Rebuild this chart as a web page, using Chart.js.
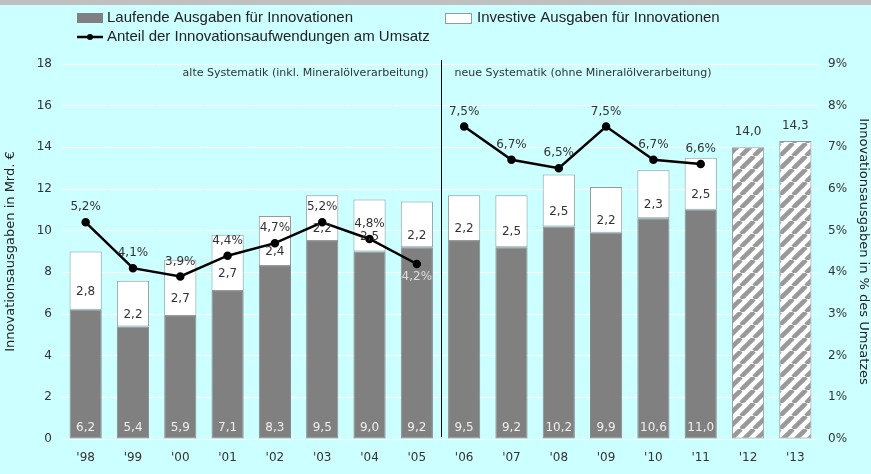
<!DOCTYPE html>
<html>
<head>
<meta charset="utf-8">
<script src="https://cdn.jsdelivr.net/npm/chart.js@4"></script>
<style>
  html, body { margin: 0; padding: 0; background: #ccffff; }
  #wrap { width: 871px; height: 474px; }
</style>
</head>
<body>
<div id="wrap"><canvas id="chart"></canvas></div>
<script>
const years = ["'98", "'99", "'00", "'01", "'02", "'03", "'04", "'05", "'06", "'07", "'08", "'09", "'10", "'11", "'12", "'13"];
const laufend = [6.2, 5.4, 5.9, 7.1, 8.3, 9.5, 9.0, 9.2, 9.5, 9.2, 10.2, 9.9, 10.6, 11.0, null, null];
const investiv = [2.8, 2.2, 2.7, 2.7, 2.4, 2.2, 2.5, 2.2, 2.2, 2.5, 2.5, 2.2, 2.3, 2.5, null, null];
const planwerte = [null, null, null, null, null, null, null, null, null, null, null, null, null, null, 14.0, 14.3];
const anteil = [5.2, 4.1, 3.9, 4.4, 4.7, 5.2, 4.8, 4.2, 7.5, 6.7, 6.5, 7.5, 6.7, 6.6, null, null];

const labelFont = "12px 'DejaVu Sans'";
const textColor = "#333";
const fmt = (v) => v.toFixed(1).replace(".", ",");

// hatched fill for the planned years
function hatch() {
  const n = 13;
  const c = document.createElement("canvas");
  c.width = n; c.height = n;
  const g = c.getContext("2d");
  g.fillStyle = "#fff";
  g.fillRect(0, 0, n, n);
  g.strokeStyle = "#999";
  g.lineWidth = 4.5;
  [-n, 0, n].forEach((o) => {
    g.beginPath(); g.moveTo(o, n); g.lineTo(o + n, 0); g.stroke();
  });
  return g.createPattern(c, "repeat");
}

const background = {
  id: "background",
  beforeDraw(chart) {
    const ctx = chart.ctx;
    ctx.save();
    ctx.fillStyle = "#ccffff";
    ctx.fillRect(0, 0, chart.width, chart.height);
    ctx.fillStyle = "#c0c0c0";
    ctx.fillRect(0, 0, chart.width, 5);
    ctx.restore();
  },
};

const legendBox = {
  id: "legendBox",
  afterDraw(chart) {
    const ctx = chart.ctx;
    const ds = chart.data.datasets;
    ctx.save();
    ctx.font = "15px 'Liberation Sans Narrow', 'Liberation Sans'";
    ctx.textBaseline = "middle";
    // row 1
    ctx.fillStyle = "#808080";
    ctx.fillRect(77, 13, 26, 10);
    ctx.fillStyle = "#222";
    ctx.fillText(ds[0].label, 107, 18);
    ctx.fillStyle = "#fff";
    ctx.fillRect(445.5, 13.5, 26, 10);
    ctx.strokeStyle = "#999";
    ctx.lineWidth = 1;
    ctx.strokeRect(445.5, 13.5, 26, 10);
    ctx.fillStyle = "#222";
    ctx.fillText(ds[1].label, 477, 18);
    // row 2
    ctx.strokeStyle = "#000";
    ctx.lineWidth = 2.5;
    ctx.beginPath(); ctx.moveTo(77, 37); ctx.lineTo(103, 37); ctx.stroke();
    ctx.fillStyle = "#000";
    ctx.beginPath(); ctx.arc(90, 37, 3, 0, Math.PI * 2); ctx.fill();
    ctx.fillStyle = "#222";
    ctx.fillText(ds[3].label, 107, 37);
    ctx.restore();
  },
};

const separator = {
  id: "separator",
  afterDatasetsDraw(chart) {
    const ctx = chart.ctx;
    const x = chart.scales.x;
    const area = chart.chartArea;
    const sx = Math.round((x.getPixelForValue(7) + x.getPixelForValue(8)) / 2) + 0.5;
    ctx.save();
    ctx.strokeStyle = "#000";
    ctx.lineWidth = 1;
    ctx.beginPath(); ctx.moveTo(sx, area.top - 4); ctx.lineTo(sx, area.bottom - 2); ctx.stroke();
    ctx.font = "11px 'DejaVu Sans'";
    ctx.fillStyle = textColor;
    ctx.textBaseline = "middle";
    ctx.textAlign = "right";
    ctx.fillText("alte Systematik (inkl. Mineralölverarbeitung)", sx - 13, area.top + 9);
    ctx.textAlign = "left";
    ctx.fillText("neue Systematik (ohne Mineralölverarbeitung)", sx + 13, area.top + 9);
    ctx.restore();
  },
};

const valueLabels = {
  id: "valueLabels",
  afterDraw(chart) {
    const ctx = chart.ctx;
    ctx.save();
    ctx.font = labelFont;
    ctx.textAlign = "center";
    ctx.textBaseline = "middle";
    chart.getDatasetMeta(0).data.forEach((el, i) => {
      if (laufend[i] == null) return;
      ctx.fillStyle = "#eee";
      ctx.fillText(fmt(laufend[i]), el.x, el.base - 11);
    });
    chart.getDatasetMeta(1).data.forEach((el, i) => {
      if (investiv[i] == null) return;
      ctx.fillStyle = textColor;
      ctx.fillText(fmt(investiv[i]), el.x, (el.y + el.base) / 2 + 11);
    });
    chart.getDatasetMeta(2).data.forEach((el, i) => {
      if (planwerte[i] == null) return;
      ctx.fillStyle = textColor;
      ctx.fillText(fmt(planwerte[i]), el.x, el.y - 15);
    });
    chart.getDatasetMeta(3).data.forEach((el, i) => {
      if (anteil[i] == null) return;
      if (i === 7) {
        ctx.fillStyle = "#ddd";
        ctx.fillText(fmt(anteil[i]) + "%", el.x, el.y + 13);
      } else {
        ctx.fillStyle = textColor;
        ctx.fillText(fmt(anteil[i]) + "%", el.x, el.y - 15);
      }
    });
    ctx.restore();
  },
};

new Chart(document.getElementById("chart"), {
  type: "bar",
  data: {
    labels: years,
    datasets: [
      {
        label: "Laufende Ausgaben für Innovationen",
        data: laufend,
        backgroundColor: "#808080",
        borderColor: "#8a8a8a",
        borderWidth: 1,
        stack: "s",
        order: 2,
      },
      {
        label: "Investive Ausgaben für Innovationen",
        data: investiv,
        backgroundColor: "#fff",
        borderColor: "#999",
        borderWidth: 1,
        stack: "s",
        order: 2,
      },
      {
        label: "Planung",
        data: planwerte,
        backgroundColor: hatch(),
        borderColor: "#999",
        borderWidth: 1,
        stack: "s",
        order: 2,
      },
      {
        type: "line",
        label: "Anteil der Innovationsaufwendungen am Umsatz",
        data: anteil,
        yAxisID: "y1",
        borderColor: "#000",
        backgroundColor: "#000",
        borderWidth: 2.5,
        pointRadius: 3,
        pointBackgroundColor: "#000",
        tension: 0,
        order: 1,
        segment: {
          borderColor: (c) => (c.p0DataIndex === 7 ? "transparent" : "#000"),
        },
      },
    ],
  },
  options: {
    responsive: true,
    maintainAspectRatio: false,
    animation: false,
    layout: { padding: { top: 64, left: 0, right: 0, bottom: 0 } },
    datasets: {
      bar: { categoryPercentage: 1, barPercentage: 0.68, borderSkipped: false },
    },
    plugins: {
      legend: { display: false },
      tooltip: { enabled: false },
    },
    scales: {
      x: {
        stacked: true,
        grid: { display: false, drawTicks: false },
        border: { display: false },
        ticks: { color: textColor, font: { family: "DejaVu Sans", size: 12 }, padding: 12, maxRotation: 0 },
        afterFit: (s) => { s.height = 35; },
      },
      y: {
        stacked: true,
        min: 0,
        max: 18,
        ticks: { stepSize: 2, color: textColor, font: { family: "DejaVu Sans", size: 12 }, padding: 10 },
        grid: { color: "#fff", lineWidth: 1, drawTicks: false },
        border: { display: false, dash: [46, 1.3] },
        title: {
          display: true,
          text: "Innovationsausgaben in Mrd. €",
          color: "#222",
          font: { family: "DejaVu Sans", size: 13 },
          padding: { top: 3, bottom: 0 },
        },
        afterFit: (s) => { s.width = 62; },
      },
      y1: {
        position: "right",
        min: 0,
        max: 9,
        ticks: { stepSize: 1, color: textColor, font: { family: "DejaVu Sans", size: 12 }, padding: 9, callback: (v) => v + "%" },
        grid: { display: false, drawTicks: false },
        border: { display: false },
        title: {
          display: true,
          text: "Innovationsausgaben in % des Umsatzes",
          color: "#222",
          font: { family: "DejaVu Sans", size: 13 },
          padding: { top: 0, bottom: 0 },
        },
        afterFit: (s) => { s.width = 52; },
      },
    },
  },
  plugins: [background, separator, valueLabels, legendBox],
});
</script>
</body>
</html>
